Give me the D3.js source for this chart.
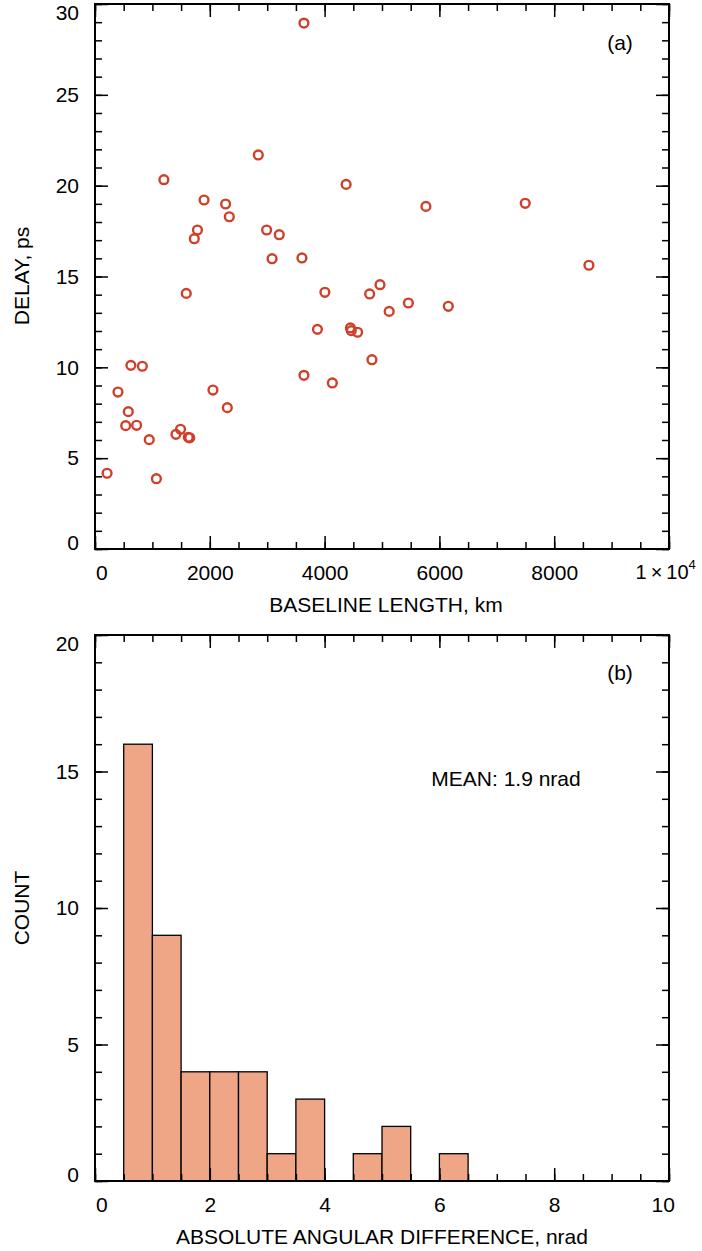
<!DOCTYPE html>
<html><head><meta charset="utf-8">
<script src="https://cdn.jsdelivr.net/npm/d3@7"></script>
<style>
body{margin:0;background:#fff}
text{font-family:"Liberation Sans",Arial,Helvetica,sans-serif;fill:#000}
</style>
</head><body>
<svg id="c" width="702" height="1251"></svg>
<script>
// ---- Panel (a) data: baseline length (km) vs delay (ps)
const baselineKm = [3640, 2845, 1200, 4375, 1900, 2275, 2340, 1785, 1730, 2990, 3210, 3085, 3605,
  5765, 7495, 8605,
  1590, 4005, 4965, 4785, 5125, 3875, 4450, 4465, 4575, 4825, 3640, 4135,
  625, 825, 400, 2055, 2305, 580, 535, 725, 945, 1410, 1490, 1625, 1650, 210, 1070,
  5460, 6155];
const delayPs = [28.95, 21.69, 20.33, 20.07, 19.21, 18.99, 18.29, 17.56, 17.08, 17.56, 17.30, 15.98, 16.02,
  18.86, 19.03, 15.62,
  14.07, 14.13, 14.55, 14.04, 13.08, 12.09, 12.17, 12.02, 11.93, 10.42, 9.56, 9.14,
  10.11, 10.06, 8.64, 8.75, 7.78, 7.56, 6.79, 6.81, 6.02, 6.31, 6.59, 6.15, 6.12, 4.17, 3.87,
  13.54, 13.36];

// ---- Panel (b) data: histogram of absolute angular difference (nrad)
const binStarts = [0.5, 1.0, 1.5, 2.0, 2.5, 3.0, 3.5, 4.0, 4.5, 5.0, 5.5, 6.0];
const binCounts = [16, 9, 4, 4, 4, 1, 3, 0, 1, 2, 0, 1];
const binWidth = 0.5;

const xTicksA = [0, 2000, 4000, 6000, 8000, 10000];
const yTicksA = [0, 5, 10, 15, 20, 25, 30];
const xTicksB = [0, 2, 4, 6, 8, 10];
const yTicksB = [0, 5, 10, 15, 20];

const svg = d3.select("#c");
const FS = 21;
const L = 95, R = 669;

function panel(cfg) {
  const g = svg.append("g");
  const x = d3.scaleLinear().domain(cfg.xDomain).range([L, R]);
  const y = d3.scaleLinear().domain(cfg.yDomain).range([cfg.bottom, cfg.top]);
  const xMinor = d3.range(cfg.xDomain[0], cfg.xDomain[1] + 1e-9, cfg.xMinorStep);
  const yMinor = d3.range(cfg.yDomain[0], cfg.yDomain[1] + 1e-9, cfg.yMinorStep);
  const big = 13, small = 7;
  const axes = [
    [d3.axisBottom(x).tickValues(xMinor).tickSize(-small).tickFormat(""), `translate(0,${cfg.bottom})`],
    [d3.axisTop(x).tickValues(xMinor).tickSize(-small).tickFormat(""), `translate(0,${cfg.top})`],
    [d3.axisLeft(y).tickValues(yMinor).tickSize(-small).tickFormat(""), `translate(${L},0)`],
    [d3.axisRight(y).tickValues(yMinor).tickSize(-small).tickFormat(""), `translate(${R},0)`],
    [d3.axisTop(x).tickValues(cfg.xTicks).tickSize(-big).tickFormat(""), `translate(0,${cfg.top})`],
    [d3.axisRight(y).tickValues(cfg.yTicks).tickSize(-big).tickFormat(""), `translate(${R},0)`]
  ];
  const ticksG = g.append("g");
  axes.forEach(([ax, tr]) => {
    const a = ticksG.append("g").attr("transform", tr).call(ax);
    a.select(".domain").remove();
    a.selectAll("line").attr("stroke", "#000").attr("stroke-width", 1.5);
  });
  const xa = g.append("g").attr("transform", `translate(0,${cfg.bottom})`)
    .call(d3.axisBottom(x).tickValues(cfg.xTicks).tickSize(-big).tickPadding(16).tickFormat(cfg.xFormat));
  const ya = g.append("g").attr("transform", `translate(${L},0)`)
    .call(d3.axisLeft(y).tickValues(cfg.yTicks).tickSize(-big).tickPadding(16));
  [xa, ya].forEach(a => {
    a.select(".domain").remove();
    a.selectAll("line").attr("stroke", "#000").attr("stroke-width", 1.5);
    a.selectAll("text").attr("font-size", FS).attr("font-family", null).attr("fill", "#000");
  });
  ya.selectAll(".tick text").filter(d => d === cfg.yDomain[0]).attr("dy", "0.02em");
  ya.selectAll(".tick text").filter(d => d === cfg.yDomain[1]).attr("dy", "0.72em");
  xa.selectAll(".tick text").filter(d => d === cfg.xDomain[0]).attr("dx", "0.3em");
  return {g, x, y, xa, ya};
}

// ---------- Panel (a)
const A = panel({
  xDomain: [0, 10000], yDomain: [0, 30], top: 4, bottom: 549,
  xMinorStep: 500, yMinorStep: 1, xTicks: xTicksA, yTicks: yTicksA,
  xFormat: d => d === 10000 ? "" : d3.format("d")(d)
});
const sci = A.xa.selectAll(".tick text").filter(d => d === 10000)
  .attr("text-anchor", "start").attr("font-size", 20).attr("dx", -34);
sci.append("tspan").text("1\u2009×\u200910");
sci.append("tspan").text("4").attr("font-size", 13).attr("dy", "-0.75em");

A.g.append("g").selectAll("circle")
  .data(baselineKm.map((b, i) => [b, delayPs[i]]))
  .join("circle")
  .attr("cx", d => A.x(d[0])).attr("cy", d => A.y(d[1]))
  .attr("r", 4.4).attr("fill", "none").attr("stroke", "#cf3f29").attr("stroke-width", 2.4);

A.g.append("rect").attr("x", L).attr("y", 4).attr("width", R - L).attr("height", 549 - 4)
  .attr("fill", "none").attr("stroke", "#000").attr("stroke-width", 2);
A.g.append("text").attr("x", 620).attr("y", 50).attr("text-anchor", "middle").attr("font-size", FS).text("(a)");
A.g.append("text").attr("x", 386).attr("y", 612).attr("text-anchor", "middle").attr("font-size", FS).text("BASELINE LENGTH, km");
A.g.append("text").attr("transform", "translate(29,276) rotate(-90)").attr("text-anchor", "middle").attr("font-size", FS).text("DELAY, ps");

// ---------- Panel (b)
const B = panel({
  xDomain: [0, 10], yDomain: [0, 20], top: 635, bottom: 1181,
  xMinorStep: 0.5, yMinorStep: 1, xTicks: xTicksB, yTicks: yTicksB,
  xFormat: d3.format("d")
});
B.xa.selectAll(".tick text").filter(d => d === 10).attr("dx", "-0.3em");

B.g.insert("g", ":first-child").selectAll("rect")
  .data(binStarts.map((s, i) => [s, binCounts[i]]))
  .join("rect")
  .attr("x", d => B.x(d[0])).attr("width", d => B.x(d[0] + binWidth) - B.x(d[0]))
  .attr("y", d => B.y(d[1])).attr("height", d => B.y(0) - B.y(d[1]))
  .attr("fill", "#eea686").attr("stroke", "#000").attr("stroke-width", 1.3);

B.g.append("rect").attr("x", L).attr("y", 635).attr("width", R - L).attr("height", 1181 - 635)
  .attr("fill", "none").attr("stroke", "#000").attr("stroke-width", 2);
B.g.append("text").attr("x", 620).attr("y", 680).attr("text-anchor", "middle").attr("font-size", FS).text("(b)");
B.g.append("text").attr("x", 506).attr("y", 786).attr("text-anchor", "middle").attr("font-size", FS).text("MEAN: 1.9 nrad");
B.g.append("text").attr("x", 382).attr("y", 1244).attr("text-anchor", "middle").attr("font-size", FS).text("ABSOLUTE ANGULAR DIFFERENCE, nrad");
B.g.append("text").attr("transform", "translate(29,908) rotate(-90)").attr("text-anchor", "middle").attr("font-size", FS).text("COUNT");
</script>
</body></html>
